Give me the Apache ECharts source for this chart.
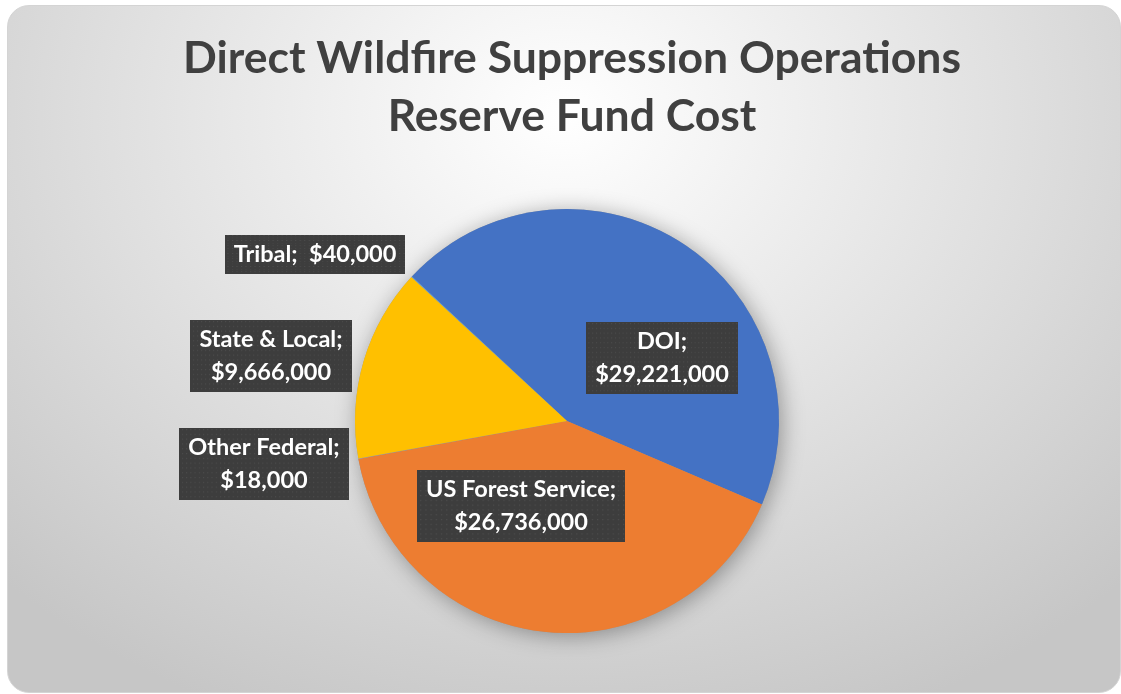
<!DOCTYPE html>
<html>
<head>
<meta charset="utf-8">
<script src="https://cdn.jsdelivr.net/npm/echarts@6/dist/echarts.min.js"></script>
<style>
  html, body { margin: 0; padding: 0; background: #ffffff; }
  #frame {
    position: absolute; left: 7px; top: 5px; width: 1112px; height: 686px;
    border: 1px solid #d4d4d4; border-radius: 22px; overflow: hidden;
    background: radial-gradient(ellipse 72% 95% at 50% 16%, #ffffff 0%, #f3f3f3 22%, #dcdcdc 62%, #c6c6c6 100%);
  }
  #chart { position: absolute; left: 0; top: 0; width: 1121px; height: 694px; }
</style>
</head>
<body>
<div id="frame"></div>
<div id="chart"></div>
<script>
// ---- data ----
const categories = ['DOI', 'US Forest Service', 'Other Federal', 'State & Local', 'Tribal'];
const values = [29221000, 26736000, 18000, 9666000, 40000];
const colors = ['#4472C4', '#ED7D31', '#A5A5A5', '#FFC000', '#5B9BD5'];
const titleLines = ['Direct Wildfire Suppression Operations', 'Reserve Fund Cost'];

function money(v) { return '$' + v.toString().replace(/\B(?=(\d{3})+(?!\d))/g, ','); }

// dotted dark texture for label boxes
function makeTexture(w, h) {
  const c = document.createElement('canvas');
  c.width = w; c.height = h;
  const g = c.getContext('2d');
  g.fillStyle = '#3d3d3d';
  g.fillRect(0, 0, w, h);
  g.fillStyle = '#4d4d4d';
  for (let y = 1; y < h; y += 5) {
    for (let x = ((y / 5) % 2 ? 3 : 1); x < w; x += 5) {
      g.fillRect(x, y, 1.3, 1.3);
    }
  }
  return c;
}
const tex = makeTexture(200, 75);

// label placement (centre of each box, px)
const labelPos = {
  'DOI': [662, 358],
  'US Forest Service': [521, 506],
  'Other Federal': [264, 464],
  'State & Local': [271, 356],
  'Tribal': [315, 254]
};

const data = categories.map((n, i) => ({ name: n, value: values[i], itemStyle: { color: colors[i] } }));

const chart = echarts.init(document.getElementById('chart'), null, { renderer: 'canvas' });
chart.setOption({
  backgroundColor: 'transparent',
  animation: false,
  title: {
    text: titleLines.join('\n'),
    left: 567,
    textAlign: 'center',
    top: 25,
    textStyle: {
      fontFamily: 'Lato', fontWeight: 'bold', fontSize: 44.5, color: '#404040', lineHeight: 58
    }
  },
  series: [
    {
      // shadow layer underneath
      type: 'pie', silent: true, z: 1,
      center: [567, 421], radius: 212, startAngle: 137, clockwise: true,
      label: { show: false }, labelLine: { show: false },
      itemStyle: { color: '#999', shadowBlur: 22, shadowColor: 'rgba(0,0,0,0.35)', shadowOffsetX: 3, shadowOffsetY: 3 },
      data: categories.map((n, i) => ({ name: n, value: values[i] }))
    },
    {
      type: 'pie', z: 2,
      center: [567, 421], radius: 212, startAngle: 137, clockwise: true,
      avoidLabelOverlap: false,
      minShowLabelAngle: 0,
      itemStyle: { borderWidth: 0 },
      labelLine: { show: false },
      label: {
        show: true,
        position: 'inside',
        formatter: p => p.name + ';' + (p.name === 'Tribal' ? '  ' : '\n') + money(p.value),
        fontFamily: 'Lato', fontWeight: 'bold', fontSize: 23.5, color: '#ffffff',
        lineHeight: 33, align: 'center',
        backgroundColor: { image: tex },
        padding: [3, 9, 3, 9],
        shadowBlur: 6, shadowColor: 'rgba(0,0,0,0.5)', shadowOffsetX: 2, shadowOffsetY: 3
      },
      labelLayout: function (params) {
        const name = categories[params.dataIndex];
        const p = labelPos[name];
        return { x: p[0], y: p[1], align: 'center', verticalAlign: 'middle' };
      },
      data: data
    }
  ]
});
</script>
</body>
</html>
